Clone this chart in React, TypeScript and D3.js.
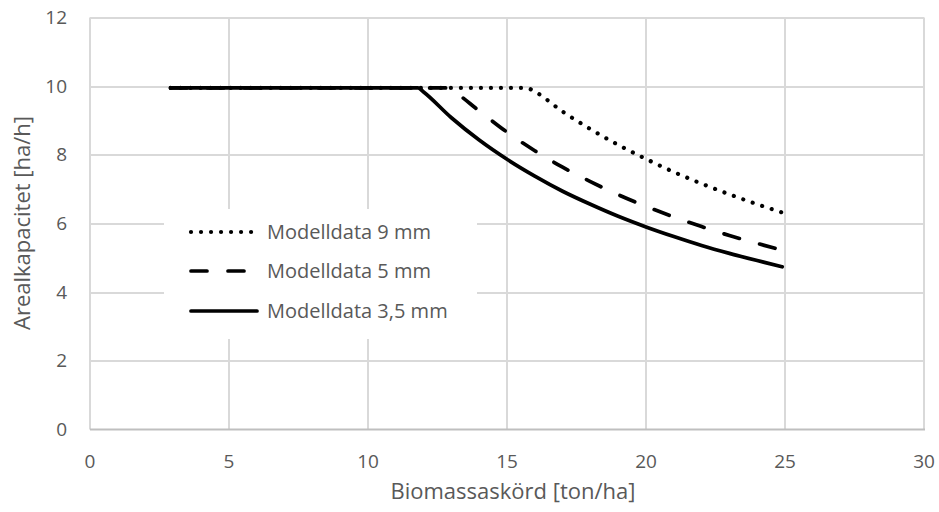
import React from 'react'
import * as d3 from 'd3'

const xSolid = [2.9, 11.8, 12, 13, 14, 15, 16, 17, 18, 19, 20, 21, 22, 23, 24, 24.9]
const ySolid = [9.95, 9.95, 9.83, 9.08, 8.43, 7.87, 7.38, 6.94, 6.56, 6.21, 5.9, 5.62, 5.36, 5.13, 4.92, 4.74]

const xDashed = [2.9, 12.9, 13, 14, 15, 16, 17, 18, 19, 20, 21, 22, 23, 24, 24.9]
const yDashed = [9.95, 9.95, 9.9, 9.28, 8.66, 8.12, 7.64, 7.22, 6.84, 6.5, 6.19, 5.91, 5.65, 5.42, 5.22]

const xDotted = [2.9, 15.7, 16, 17, 18, 19, 20, 21, 22, 23, 24, 24.9]
const yDotted = [9.95, 9.95, 9.84, 9.26, 8.75, 8.29, 7.88, 7.5, 7.16, 6.85, 6.56, 6.32]

const seriesNames = ['Modelldata 9 mm', 'Modelldata 5 mm', 'Modelldata 3,5 mm']
const xTicks = [0, 5, 10, 15, 20, 25, 30]
const yTicks = [0, 2, 4, 6, 8, 10, 12]

const font = "'Open Sans', sans-serif"

const App = () => {
    const ref = React.useRef<SVGSVGElement>(null)

    React.useEffect(() => {
        const width = 939
        const height = 512
        const svg = d3.select(ref.current)
        svg.selectAll('*').remove()

        const margin = { top: 17.5, right: 15, bottom: 82.5, left: 90 }
        const innerWidth = width - margin.left - margin.right
        const innerHeight = height - margin.top - margin.bottom

        const g = svg.append('g')
            .attr('transform', 'translate(' + margin.left + ',' + margin.top + ')')

        const xScale = d3.scaleLinear().domain([0, 30]).range([0, innerWidth])
        const yScale = d3.scaleLinear().domain([0, 12]).range([innerHeight, 0])

        // grid
        g.selectAll('.hgrid')
            .data(yTicks.filter((d) => d > 0))
            .enter()
            .append('line')
            .attr('x1', 0)
            .attr('x2', innerWidth)
            .attr('y1', (d) => Math.round(yScale(d)) + 0.5)
            .attr('y2', (d) => Math.round(yScale(d)) + 0.5)
            .attr('stroke', '#d9d9d9')
            .attr('stroke-width', 2)

        g.selectAll('.vgrid')
            .data(xTicks)
            .enter()
            .append('line')
            .attr('x1', (d) => Math.round(xScale(d)))
            .attr('x2', (d) => Math.round(xScale(d)))
            .attr('y1', 0)
            .attr('y2', innerHeight)
            .attr('stroke', '#d9d9d9')
            .attr('stroke-width', 2)

        // x axis line
        g.append('line')
            .attr('x1', 0)
            .attr('x2', innerWidth + 1)
            .attr('y1', innerHeight)
            .attr('y2', innerHeight)
            .attr('stroke', '#bfbfbf')
            .attr('stroke-width', 2)

        // tick labels
        g.selectAll('.xlab')
            .data(xTicks)
            .enter()
            .append('text')
            .attr('x', (d) => xScale(d))
            .attr('y', innerHeight + 38.5)
            .attr('text-anchor', 'middle')
            .style('font-family', font)
            .style('font-size', '19px')
            .attr('fill', '#595959')
            .text((d) => d)

        g.selectAll('.ylab')
            .data(yTicks)
            .enter()
            .append('text')
            .attr('x', -23)
            .attr('y', (d) => yScale(d))
            .attr('dy', '0.35em')
            .attr('text-anchor', 'end')
            .style('font-family', font)
            .style('font-size', '19px')
            .attr('fill', '#595959')
            .text((d) => d)

        // axis titles
        svg.append('text')
            .attr('x', margin.left + xScale(15) + 6)
            .attr('y', 499)
            .attr('text-anchor', 'middle')
            .style('font-family', font)
            .style('font-size', '22px')
            .attr('fill', '#595959')
            .text('Biomassaskörd [ton/ha]')

        svg.append('text')
            .attr('transform', 'translate(30,' + 223 + ') rotate(-90)')
            .attr('text-anchor', 'middle')
            .style('font-family', font)
            .style('font-size', '22px')
            .attr('fill', '#595959')
            .text('Arealkapacitet [ha/h]')

        const styles = [
            { dash: '0.01 10', w: 4.2, xs: xDotted, ys: yDotted },
            { dash: '16 21', w: 3.7, xs: xDashed, ys: yDashed },
            { dash: null, w: 3.7, xs: xSolid, ys: ySolid },
        ]

        const line = d3.line<[number, number]>()
            .x((d) => xScale(d[0]))
            .y((d) => yScale(d[1]))
            .curve(d3.curveMonotoneX)

        // solid drawn first, dotted on top
        styles.slice().reverse().forEach((s) => {
            const pts = s.xs.map((x, i) => [x, s.ys[i]] as [number, number])
            g.append('path')
                .attr('d', line(pts))
                .attr('fill', 'none')
                .attr('stroke', 'black')
                .attr('stroke-width', s.w)
                .attr('stroke-linecap', 'round')
                .attr('stroke-linejoin', 'round')
                .attr('stroke-dasharray', s.dash)
        })

        // legend
        const lg = svg.append('g')
        lg.append('rect')
            .attr('x', 164)
            .attr('y', 209)
            .attr('width', 313)
            .attr('height', 130)
            .attr('fill', 'white')

        const rows = [232, 271, 311]
        styles.forEach((s, i) => {
            lg.append('line')
                .attr('x1', 191)
                .attr('x2', s.dash === '16 21' ? 246 : 257)
                .attr('y1', rows[i])
                .attr('y2', rows[i])
                .attr('stroke', 'black')
                .attr('stroke-width', s.w)
                .attr('stroke-linecap', 'round')
                .attr('stroke-dasharray', s.dash)
            lg.append('text')
                .attr('x', 267)
                .attr('y', rows[i])
                .attr('dy', '0.35em')
                .style('font-family', font)
                .style('font-size', '20px')
                .attr('fill', '#595959')
                .text(seriesNames[i])
        })
    }, [])

    return (
        <svg
            ref={ref}
            width={939}
            height={512}
            style={{ position: 'absolute', left: 0, top: 0, background: 'white' }}
        ></svg>
    )
}

export default App
